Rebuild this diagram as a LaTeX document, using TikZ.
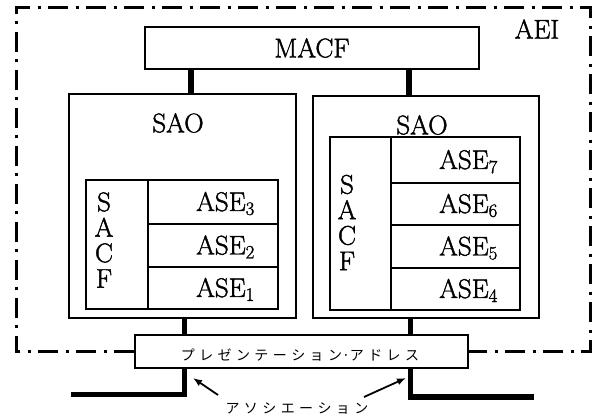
\documentclass[tikz,border=0pt]{standalone}
\usepackage{fontspec}
\newfontfamily\jpfont{Noto Sans CJK JP}
\newfontfamily\heavyrm{Latin Modern Roman}[FakeBold=1.5]
\usetikzlibrary{arrows.meta}
% tracking between katakana characters
\newcommand\jk{\kern4.4pt}

\begin{document}
\begin{tikzpicture}[x=1pt,y=-1pt,
  box/.style={draw,line width=1.4pt,inner sep=0pt},
  lbl/.style={font=\heavyrm\fontsize{27}{30}\selectfont,inner sep=0pt},
  vlbl/.style={font=\heavyrm\fontsize{27}{25.5}\selectfont,inner sep=0pt,align=center},
  jp/.style={font=\jpfont\fontsize{14}{16}\selectfont,inner sep=0pt},
  link/.style={line width=5.5pt},
  wire/.style={line width=5.5pt},
  pointer/.style={line width=1.8pt,-{Latex[length=9pt,width=7pt]}},
  dashdot/.style={line width=3pt,dash pattern=on 20pt off 7.5pt on 3pt off 7.5pt}
]
\useasboundingbox (0,0) rectangle (597,419);

% application entity frame label
\node[lbl] (aei) at (537,29) {AEI};

% MACF
\node[box,lbl,minimum width=334pt,minimum height=42pt] (macf) at (312,48) {MACF};

% single association objects
\node[box,minimum width=227pt,minimum height=224pt] (saoL) at (182.5,206) {};
\node[box,minimum width=226pt,minimum height=222pt] (saoR) at (426,207) {};
\node[lbl] (saoLt) at (178,123) {SAO};
\node[lbl] (saoRt) at (422,125) {SAO};

% left SACF with its ASEs
\node[box,minimum width=62pt,minimum height=129pt] (sacfL) at (117,244.5) {};
\node[vlbl] (sacfLt) at (104,240) {S\\A\\C\\F};
\node[box,minimum width=130pt,minimum height=44pt] (aseL3) at (213,202) {};
\node[box,minimum width=130pt,minimum height=43pt] (aseL2) at (213,245.5) {};
\node[box,minimum width=130pt,minimum height=42pt] (aseL1) at (213,288) {};
\node[lbl,anchor=base west] (aseL3t) at (196,211) {ASE\textsubscript{3}};
\node[lbl,anchor=base west] (aseL2t) at (196,254.5) {ASE\textsubscript{2}};
\node[lbl,anchor=base west] (aseL1t) at (196,297) {ASE\textsubscript{1}};

% right SACF with its ASEs
\node[box,minimum width=61pt,minimum height=173pt] (sacfR) at (360.5,223.5) {};
\node[vlbl] (sacfRt) at (347,222.5) {S\\A\\C\\F};
\node[box,minimum width=129pt,minimum height=46pt] (aseR7) at (455.5,160) {};
\node[box,minimum width=129pt,minimum height=42pt] (aseR6) at (455.5,204) {};
\node[box,minimum width=129pt,minimum height=43pt] (aseR5) at (455.5,246.5) {};
\node[box,minimum width=129pt,minimum height=42pt] (aseR4) at (455.5,289) {};
\node[lbl,anchor=base west] (aseR7t) at (439,169) {ASE\textsubscript{7}};
\node[lbl,anchor=base west] (aseR6t) at (439,213) {ASE\textsubscript{6}};
\node[lbl,anchor=base west] (aseR5t) at (439,255.5) {ASE\textsubscript{5}};
\node[lbl,anchor=base west] (aseR4t) at (439,298) {ASE\textsubscript{4}};

% presentation address
\node[box,fill=white,minimum width=333pt,minimum height=33pt] (pres) at (301.5,351.5) {};
\node[jp] (prest) at (300,355.5) {プ\jk レ\jk ゼ\jk ン\jk テ\jk ー\jk シ\jk ョ\jk ン·ア\jk ド\jk レ\jk ス};

% column positions of the links
\coordinate (xL) at (191,0);
\coordinate (xR) at (409,0);
\coordinate (xl) at (184.5,0);
\coordinate (xr) at (410.5,0);
\coordinate (endL) at (71,394.5);
\coordinate (endR) at (534,397);

\draw[link] (macf.south -| xL) -- (saoL.north -| xL);
\draw[link] (macf.south -| xR) -- (saoR.north -| xR);
\draw[link] (saoL.south -| xl) -- (pres.north -| xl);
\draw[link] (saoR.south -| xr) -- (pres.north -| xr);

% association lines
\draw[wire] (pres.south -| xl) |- (endL);
\draw[wire] (pres.south -| xr) |- (endR);

% association label and pointers
\node[jp] (assoc) at (297,409) {ア\jk ソ\jk シ\jk エ\jk ー\jk シ\jk ョ\jk ン};
\coordinate (tailL) at (218,395);
\coordinate (tipL) at (193,378);
\coordinate (tailR) at (364,397);
\coordinate (tipR) at (406,378);
\draw[pointer] (tailL) -- (tipL);
\draw[pointer] (tailR) -- (tipR);

% application entity boundary (dash-dot), broken by the presentation box
\coordinate (aeiTL) at (16,8);
\coordinate (aeiTR) at (590,8);
\draw[dashdot] (pres.west) -| (aeiTL) -| (pres.east -| aeiTR) -- (pres.east);
\end{tikzpicture}
\end{document}
